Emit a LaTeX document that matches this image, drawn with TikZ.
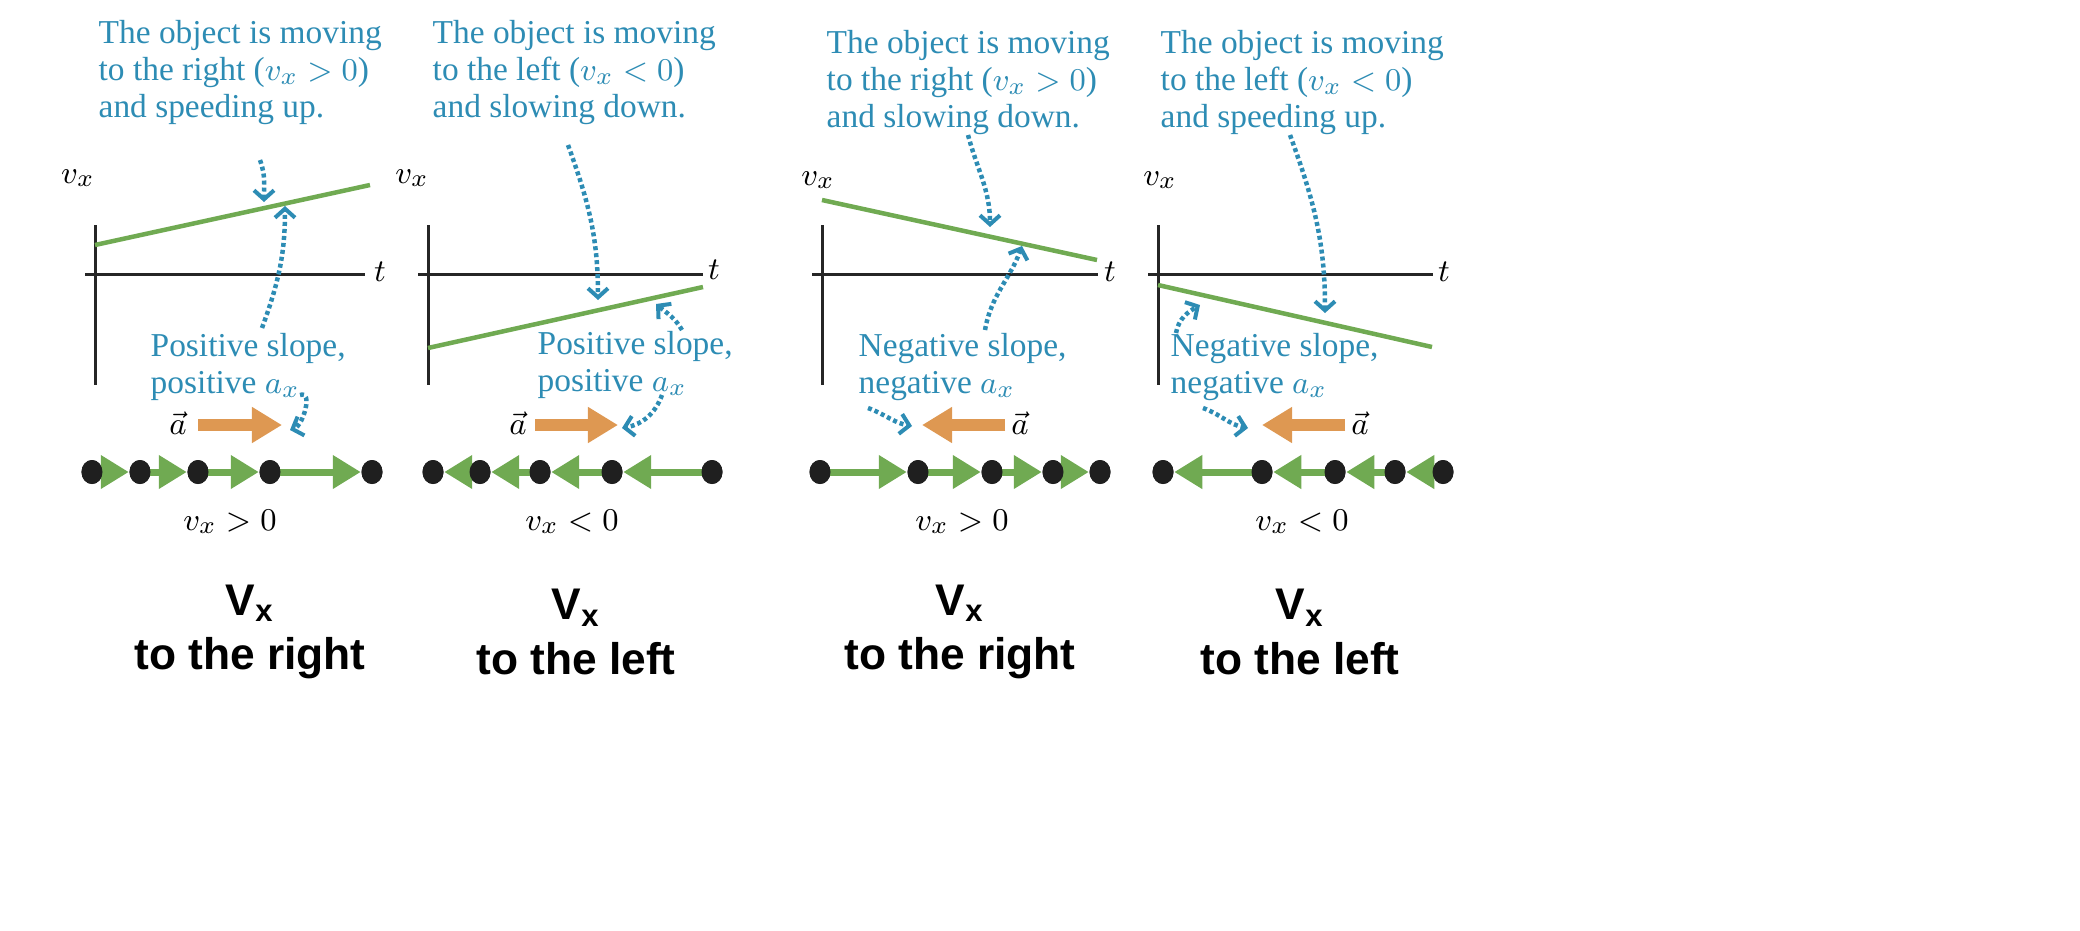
\documentclass[tikz,border=0pt]{standalone}
\usepackage{fontspec}
\setmainfont{Liberation Serif}
\newfontfamily\hvb{Liberation Sans}
\usetikzlibrary{arrows.meta,shapes.geometric}
\definecolor{cblue}{RGB}{45,140,180}
\definecolor{cgreen}{RGB}{112,170,82}
\definecolor{corange}{RGB}{222,152,82}
\begin{document}
\begin{tikzpicture}[x=0.01cm,y=-0.01cm,
 captxt/.style={anchor=north west,align=left,inner sep=0,text=cblue,font=\fontsize{9.5}{10.5}\selectfont},
 lbl/.style={inner sep=0,font=\fontsize{9.5}{10.5}\selectfont},
 ttl/.style={align=center,inner sep=0,font=\hvb\bfseries\fontsize{12.6}{15.5}\selectfont},
 axis/.style={line width=0.03cm,black!85},
 vline/.style={line width=0.045cm,cgreen},
 dots/.style={line width=0.045cm,cblue,dash pattern=on 0.04cm off 0.03cm,-{Straight Barb[length=0.09cm,width=0.2cm,line width=0.04cm]}},
 dot/.style={ellipse,fill=black!88,inner sep=0,minimum width=0.21cm,minimum height=0.24cm},
 garr/.style={line width=0.07cm,cgreen,-{Triangle[length=0.28cm,width=0.32cm]}},
 oarr/.style={line width=0.12cm,corange,-{Triangle[length=0.3cm,width=0.34cm]}}]
\useasboundingbox (0,0) rectangle (2080,930);
% ---------- Panel 1 ----------
\node[captxt] (c1) at (98,20) {The object is moving\\to the right ($v_x>0$)\\and speeding up.};
\coordinate (yt1) at (95,225); \coordinate (yb1) at (95,385);
\coordinate (xl1) at (85,274); \coordinate (xr1) at (365,274);
\draw[axis] (yt1) -- (yb1); \draw[axis] (xl1) -- (xr1);
\node[lbl] (t1) at (380,272) {$t$};
\node[lbl] (v1) at (78,178) {$v_x$};
\coordinate (g1a) at (95,245); \coordinate (g1b) at (370,185);
\draw[vline] (g1a) -- (g1b);
\coordinate (p1a) at (260,160); \coordinate (p1b) at (264,202);
\draw[dots] (p1a) to[out=-70,in=90] (p1b);
\node[captxt] (s1) at (150,333) {Positive slope,\\positive $a_x$};
\coordinate (p1c) at (262,328); \coordinate (p1d) at (285,206);
\draw[dots] (p1c) to[out=70,in=-90] (p1d);
\node[lbl] (a1) at (178,423) {$\vec a$};
\coordinate (o1a) at (198,425); \coordinate (o1b) at (282,425);
\draw[oarr] (o1a) -- (o1b);
\coordinate (p1e) at (300,395); \coordinate (p1f) at (290,430);
\draw[dots] (p1e) to[out=20,in=20] (p1f);
\node[dot] (d11) at (92,472) {}; \node[dot] (d12) at (140,472) {};
\node[dot] (d13) at (198,472) {}; \node[dot] (d14) at (270,472) {};
\node[dot] (d15) at (372,472) {};
\draw[garr] (d11.center) -- (d12.west); \draw[garr] (d12.center) -- (d13.west);
\draw[garr] (d13.center) -- (d14.west); \draw[garr] (d14.center) -- (d15.west);
\node[dot] at (d11) {}; \node[dot] at (d12) {}; \node[dot] at (d13) {}; \node[dot] at (d14) {}; \node[dot] at (d15) {};
\node[lbl] (m1) at (230,522) {$v_x>0$};
\node[ttl] (T1) at (250,632) {V\textsubscript{x}\\to the right};
% ---------- Panel 2 ----------
\node[captxt] (c2) at (432,20) {The object is moving\\to the left ($v_x<0$)\\and slowing down.};
\coordinate (yt2) at (428,225); \coordinate (yb2) at (428,385);
\coordinate (xl2) at (418,274); \coordinate (xr2) at (703,274);
\draw[axis] (yt2) -- (yb2); \draw[axis] (xl2) -- (xr2);
\node[lbl] (t2) at (714,270) {$t$};
\node[lbl] (v2) at (412,178) {$v_x$};
\coordinate (g2a) at (428,348); \coordinate (g2b) at (703,287);
\draw[vline] (g2a) -- (g2b);
\coordinate (p2a) at (568,145); \coordinate (p2b) at (598,300);
\draw[dots] (p2a) to[out=-70,in=90] (p2b);
\node[captxt] (s2) at (537,331) {Positive slope,\\positive $a_x$};
\coordinate (p2c) at (682,330); \coordinate (p2d) at (656,304);
\draw[dots] (p2c) to[out=120,in=-40] (p2d);
\node[lbl] (a2) at (518,423) {$\vec a$};
\coordinate (o2a) at (535,425); \coordinate (o2b) at (618,425);
\draw[oarr] (o2a) -- (o2b);
\coordinate (p2e) at (662,395); \coordinate (p2f) at (622,428);
\draw[dots] (p2e) to[out=-110,in=10] (p2f);
\node[dot] (d21) at (433,472) {}; \node[dot] (d22) at (480,472) {};
\node[dot] (d23) at (540,472) {}; \node[dot] (d24) at (612,472) {};
\node[dot] (d25) at (712,472) {};
\draw[garr] (d25.center) -- (d24.east); \draw[garr] (d24.center) -- (d23.east);
\draw[garr] (d23.center) -- (d22.east); \draw[garr] (d22.center) -- (d21.east);
\node[dot] at (d21) {}; \node[dot] at (d22) {}; \node[dot] at (d23) {}; \node[dot] at (d24) {}; \node[dot] at (d25) {};
\node[lbl] (m2) at (572,522) {$v_x<0$};
\node[ttl] (T2) at (576,632) {V\textsubscript{x}\\to the left};
% ---------- Panel 3 ----------
\node[captxt] (c3) at (826,30) {The object is moving\\to the right ($v_x>0$)\\and slowing down.};
\coordinate (yt3) at (822,225); \coordinate (yb3) at (822,385);
\coordinate (xl3) at (812,274); \coordinate (xr3) at (1098,274);
\draw[axis] (yt3) -- (yb3); \draw[axis] (xl3) -- (xr3);
\node[lbl] (t3) at (1110,272) {$t$};
\node[lbl] (v3) at (818,180) {$v_x$};
\coordinate (g3a) at (822,200); \coordinate (g3b) at (1097,260);
\draw[vline] (g3a) -- (g3b);
\coordinate (p3a) at (968,135); \coordinate (p3b) at (990,227);
\draw[dots] (p3a) to[out=-75,in=90] (p3b);
\node[captxt] (s3) at (858,333) {Negative slope,\\negative $a_x$};
\coordinate (p3c) at (985,330); \coordinate (p3d) at (1022,246);
\draw[dots] (p3c) to[out=80,in=-110] (p3d);
\node[lbl] (a3) at (1020,423) {$\vec a$};
\coordinate (o3a) at (1005,425); \coordinate (o3b) at (922,425);
\draw[oarr] (o3a) -- (o3b);
\coordinate (p3e) at (868,408); \coordinate (p3f) at (912,426);
\draw[dots] (p3e) to[out=-20,in=170] (p3f);
\node[dot] (d31) at (820,472) {}; \node[dot] (d32) at (918,472) {};
\node[dot] (d33) at (992,472) {}; \node[dot] (d34) at (1053,472) {};
\node[dot] (d35) at (1100,472) {};
\draw[garr] (d31.center) -- (d32.west); \draw[garr] (d32.center) -- (d33.west);
\draw[garr] (d33.center) -- (d34.west); \draw[garr] (d34.center) -- (d35.west);
\node[dot] at (d31) {}; \node[dot] at (d32) {}; \node[dot] at (d33) {}; \node[dot] at (d34) {}; \node[dot] at (d35) {};
\node[lbl] (m3) at (962,522) {$v_x>0$};
\node[ttl] (T3) at (960,632) {V\textsubscript{x}\\to the right};
% ---------- Panel 4 ----------
\node[captxt] (c4) at (1160,30) {The object is moving\\to the left ($v_x<0$)\\and speeding up.};
\coordinate (yt4) at (1158,225); \coordinate (yb4) at (1158,385);
\coordinate (xl4) at (1148,274); \coordinate (xr4) at (1433,274);
\draw[axis] (yt4) -- (yb4); \draw[axis] (xl4) -- (xr4);
\node[lbl] (t4) at (1444,272) {$t$};
\node[lbl] (v4) at (1160,180) {$v_x$};
\coordinate (g4a) at (1158,285); \coordinate (g4b) at (1432,347);
\draw[vline] (g4a) -- (g4b);
\coordinate (p4a) at (1290,135); \coordinate (p4b) at (1325,313);
\draw[dots] (p4a) to[out=-70,in=90] (p4b);
\node[captxt] (s4) at (1170,333) {Negative slope,\\negative $a_x$};
\coordinate (p4c) at (1176,333); \coordinate (p4d) at (1200,305);
\draw[dots] (p4c) to[out=80,in=-150] (p4d);
\node[lbl] (a4) at (1360,423) {$\vec a$};
\coordinate (o4a) at (1345,425); \coordinate (o4b) at (1262,425);
\draw[oarr] (o4a) -- (o4b);
\coordinate (p4e) at (1203,408); \coordinate (p4f) at (1248,428);
\draw[dots] (p4e) to[out=-20,in=170] (p4f);
\node[dot] (d41) at (1163,472) {}; \node[dot] (d42) at (1262,472) {};
\node[dot] (d43) at (1335,472) {}; \node[dot] (d44) at (1395,472) {};
\node[dot] (d45) at (1443,472) {};
\draw[garr] (d42.center) -- (d41.east); \draw[garr] (d43.center) -- (d42.east);
\draw[garr] (d44.center) -- (d43.east); \draw[garr] (d45.center) -- (d44.east);
\node[dot] at (d41) {}; \node[dot] at (d42) {}; \node[dot] at (d43) {}; \node[dot] at (d44) {}; \node[dot] at (d45) {};
\node[lbl] (m4) at (1302,522) {$v_x<0$};
\node[ttl] (T4) at (1300,632) {V\textsubscript{x}\\to the left};
\end{tikzpicture}
\end{document}
